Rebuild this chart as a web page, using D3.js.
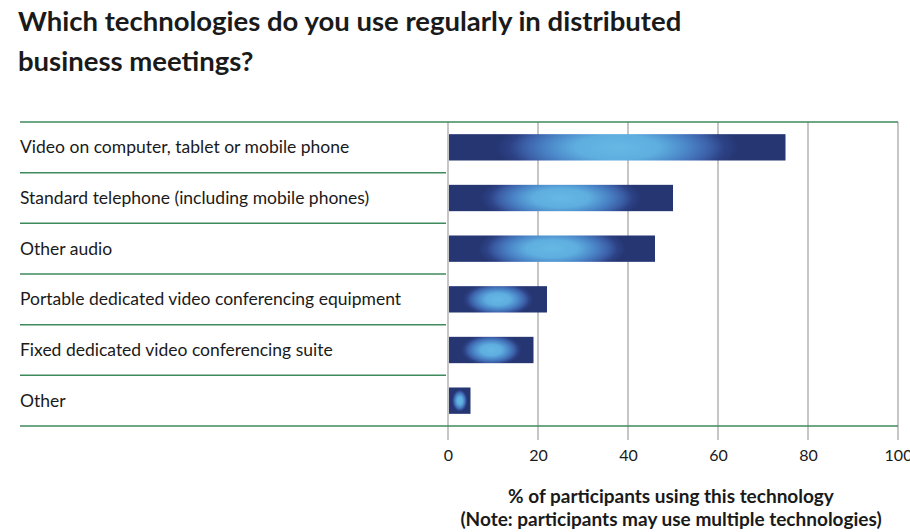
<!DOCTYPE html>
<html>
<head>
<meta charset="utf-8">
<script src="https://cdn.jsdelivr.net/npm/d3@7"></script>
<style>
  body { margin: 0; background: #fff; }
  text { font-family: Lato, "Open Sans", sans-serif; fill: #1a1a1a; }
</style>
</head>
<body>
<script>
var categories = ['Video on computer, tablet or mobile phone',
                  'Standard telephone (including mobile phones)',
                  'Other audio',
                  'Portable dedicated video conferencing equipment',
                  'Fixed dedicated video conferencing suite',
                  'Other'];
var values = [75, 50, 46, 22, 19, 5];
var tickValues = [0, 20, 40, 60, 80, 100];
var titleLines = ['Which technologies do you use regularly in distributed', 'business meetings?'];
var axisTitleLines = ['% of participants using this technology', '(Note: participants may use multiple technologies)'];

var width = 910, height = 532;

var svg = d3.select('body').append('svg').attr('width', width).attr('height', height);

var x = d3.scaleLinear().domain([0, 100]).range([448, 898]);
var y = d3.scaleBand().domain(categories).range([122, 426]).paddingInner(0.48).paddingOuter(0.24);

// one radial gradient per bar, taller glow for longer bars
var stops = [[0, '#66b8e4'], [0.25, '#5eaedf'], [0.42, '#4a85c7'], [0.55, '#3c60a8'], [0.64, '#2c4184'], [0.72, '#263673'], [1, '#263673']];
var grads = svg.append('defs').selectAll('radialGradient').data(values).enter().append('radialGradient')
    .attr('id', function(d, i){ return 'barGrad' + i; })
    .attr('cx', 0.5).attr('cy', 0.5).attr('r', 0.5)
    .attr('gradientTransform', function(d){
      var s = 1 + (x(d) - x(0)) / 120;
      return 'translate(0.5,0.5) scale(1,' + s + ') translate(-0.5,-0.5)';
    });
grads.selectAll('stop').data(stops).enter().append('stop')
    .attr('offset', function(s){ return s[0]; })
    .attr('stop-color', function(s){ return s[1]; });

// title
svg.selectAll('text.title').data(titleLines).enter().append('text')
    .attr('class', 'title')
    .attr('x', 18).attr('y', function(d, i){ return 31 + i * 40; })
    .style('font-size', '27.5px').style('font-weight', 'bold')
    .text(function(d){ return d; });

// gridlines
svg.selectAll('line.grid').data(tickValues).enter().append('line')
    .attr('class', 'grid')
    .attr('x1', function(d){ return x(d); }).attr('x2', function(d){ return x(d); })
    .attr('y1', 122).attr('y2', 440)
    .attr('stroke', '#c6c6c6').attr('stroke-width', 2);

// row separators
var step = y.step();
var seps = d3.range(categories.length + 1).map(function(i){ return y(categories[0]) - y.step() * y.paddingInner() / 2 + i * step; });
svg.selectAll('line.sep').data(seps).enter().append('line')
    .attr('class', 'sep')
    .attr('x1', 20)
    .attr('x2', function(d, i){ return (i === 0 || i === seps.length - 1) ? 898 : 446; })
    .attr('y1', function(d){ return d; }).attr('y2', function(d){ return d; })
    .attr('stroke', '#3f8a5c').attr('stroke-width', 1.5);

// bars
svg.selectAll('rect.bar').data(values).enter().append('rect')
    .attr('class', 'bar')
    .attr('x', x(0) + 1)
    .attr('y', function(d, i){ return y(categories[i]); })
    .attr('width', function(d){ return x(d) - x(0) - 1; })
    .attr('height', y.bandwidth())
    .attr('fill', function(d, i){ return 'url(#barGrad' + i + ')'; });

// category labels
svg.selectAll('text.cat').data(categories).enter().append('text')
    .attr('class', 'cat')
    .attr('x', 20)
    .attr('y', function(d){ return y(d) + y.bandwidth() / 2 + 6; })
    .style('font-size', '17.5px')
    .text(function(d){ return d; });

// x axis labels
var xAxis = d3.axisBottom(x).tickValues(tickValues).tickSize(0).tickPadding(0);
var ax = svg.append('g').attr('class', 'axis x').attr('transform', 'translate(0,450)').call(xAxis);
ax.select('.domain').remove();
ax.selectAll('text').style('font-size', '16px').style('font-family', 'Lato, "Open Sans", sans-serif').attr('fill', '#1a1a1a');

// axis title
svg.selectAll('text.axtitle').data(axisTitleLines).enter().append('text')
    .attr('class', 'axtitle')
    .attr('x', 671).attr('y', function(d, i){ return 503 + i * 23; })
    .attr('text-anchor', 'middle')
    .style('font-size', '19px').style('font-weight', 'bold')
    .text(function(d){ return d; });
</script>
</body>
</html>
